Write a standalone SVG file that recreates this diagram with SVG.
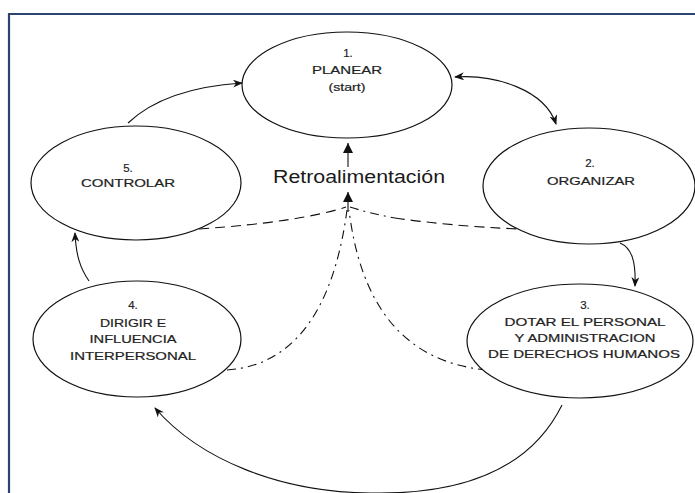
<svg xmlns="http://www.w3.org/2000/svg" width="695" height="493" viewBox="0 0 695 493">
<style>
.node ellipse{fill:#fff;stroke:#111;stroke-width:1.2}
.lbl{font-family:"Liberation Sans",Arial,sans-serif;font-size:11.5px;fill:#222;stroke:#222;stroke-width:0.2;text-anchor:middle}
.retro{font-family:"Liberation Sans",Arial,sans-serif;font-size:17.5px;fill:#1a1a1a;text-anchor:middle}
.c{fill:none;stroke:#111;stroke-width:1.1}
.dash{stroke-dasharray:10,6}
.dashdot{stroke-dasharray:9,5,2,5}
</style>
<defs>
<marker id="arr" viewBox="0 0 10 8" refX="9" refY="4" markerWidth="10" markerHeight="8" markerUnits="userSpaceOnUse" orient="auto-start-reverse">
<path d="M0,0 L10,4 L0,8 L3,4 z" fill="#111"/>
</marker>
<marker id="tri" viewBox="0 0 10 10" refX="10" refY="5" markerWidth="10" markerHeight="10" markerUnits="userSpaceOnUse" orient="auto">
<path d="M0,0 L10,5 L0,10 z" fill="#111"/>
</marker>
</defs>
<rect width="695" height="493" fill="#fff"/>
<path d="M9,493 L9,14 L695,14" fill="none" stroke="#2c4470" stroke-width="2.2"/>

<g id="connectors">
<path class="c" d="M128,123 Q165,88 242,83" marker-end="url(#arr)"/>
<path class="c" d="M455,77 C495,74 545,90 556,124" marker-start="url(#arr)" marker-end="url(#arr)"/>
<path class="c" d="M620,243 C632,248 636,262 635,286" marker-end="url(#arr)"/>
<path class="c" d="M562,405 C530,470 460,495 370,493 C280,492 200,460 155,408" marker-end="url(#arr)"/>
<path class="c" d="M89,281 C80,268 76,255 75,233" marker-end="url(#arr)"/>
<path class="c" d="M348,167 L348,143" marker-end="url(#tri)"/>
<path class="c" d="M348,212 L348,192" marker-end="url(#tri)"/>
<path class="c dash" d="M199,229 Q300,222 346,207"/>
<path class="c dashdot" d="M350,207 Q368,213 395,218"/>
<path class="c dash" d="M395,218 Q450,226 519,229"/>
<path class="c dashdot" d="M227,370 C300,365 335,300 347,210"/>
<path class="c dashdot" d="M487,370 C400,362 360,300 349,210"/>
</g>

<g id="node1" class="node">
<ellipse cx="347" cy="85" rx="105" ry="53"/>
<text class="lbl" x="348" y="57">1.</text>
<text class="lbl" x="347" y="74" textLength="70" lengthAdjust="spacingAndGlyphs">PLANEAR</text>
<text class="lbl" x="347" y="91" textLength="37" lengthAdjust="spacingAndGlyphs">(start)</text>
</g>

<g id="node2" class="node">
<ellipse cx="589" cy="186" rx="106" ry="58"/>
<text class="lbl" x="590" y="167">2.</text>
<text class="lbl" x="591" y="185" textLength="88" lengthAdjust="spacingAndGlyphs">ORGANIZAR</text>
</g>

<g id="node3" class="node">
<ellipse cx="580" cy="341" rx="113" ry="57"/>
<text class="lbl" x="585" y="309">3.</text>
<text class="lbl" x="585" y="326" textLength="161" lengthAdjust="spacingAndGlyphs">DOTAR EL PERSONAL</text>
<text class="lbl" x="585" y="342" textLength="141" lengthAdjust="spacingAndGlyphs">Y ADMINISTRACION</text>
<text class="lbl" x="584" y="358" textLength="192" lengthAdjust="spacingAndGlyphs">DE DERECHOS HUMANOS</text>
</g>

<g id="node4" class="node">
<ellipse cx="137" cy="339" rx="104" ry="58"/>
<text class="lbl" x="133" y="309">4.</text>
<text class="lbl" x="133" y="327" textLength="66" lengthAdjust="spacingAndGlyphs">DIRIGIR E</text>
<text class="lbl" x="133" y="343" textLength="87" lengthAdjust="spacingAndGlyphs">INFLUENCIA</text>
<text class="lbl" x="133" y="360" textLength="126" lengthAdjust="spacingAndGlyphs">INTERPERSONAL</text>
</g>

<g id="node5" class="node">
<ellipse cx="136" cy="183" rx="105" ry="57"/>
<text class="lbl" x="128" y="172">5.</text>
<text class="lbl" x="128" y="187" textLength="94" lengthAdjust="spacingAndGlyphs">CONTROLAR</text>
</g>

<g id="retro">
<text class="retro" x="359" y="183" textLength="172" lengthAdjust="spacingAndGlyphs">Retroalimentación</text>
</g>
</svg>
